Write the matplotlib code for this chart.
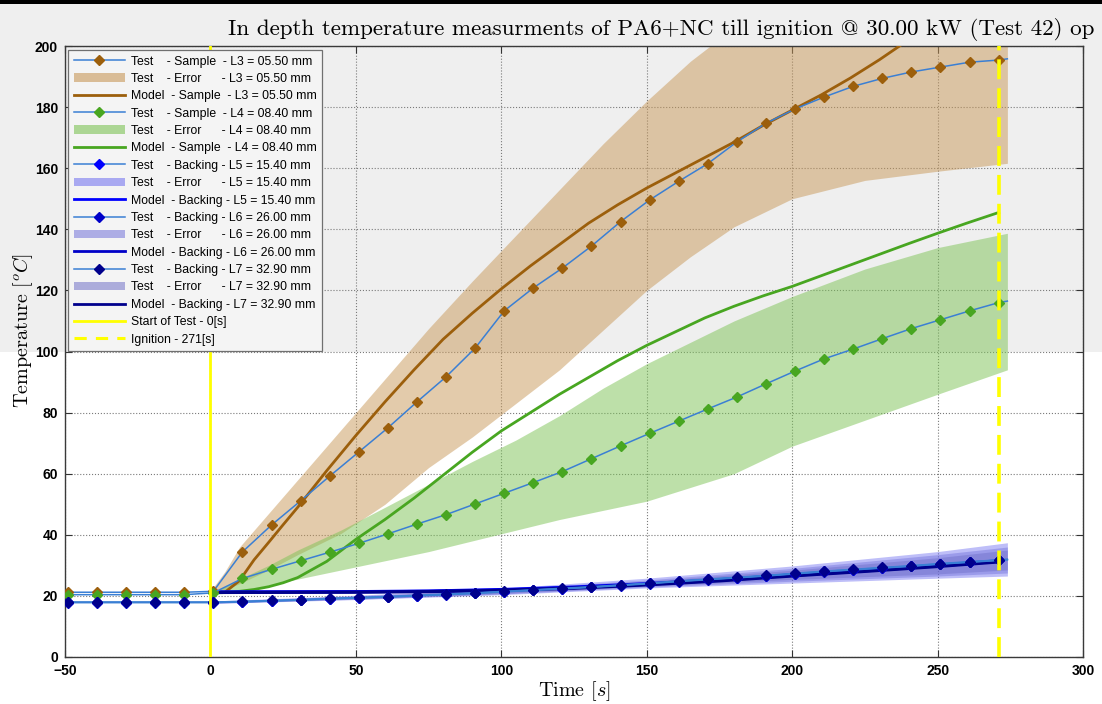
import numpy as np
import matplotlib
matplotlib.use("Agg")
import matplotlib.pyplot as plt
from matplotlib.lines import Line2D
from matplotlib.patches import Patch, Rectangle

plt.rcParams['mathtext.fontset'] = 'cm'
SERIF = ['cmr10', 'DejaVu Serif']
SANS = ['Liberation Sans', 'DejaVu Sans']

# ---------------- data ----------------
# thermocouple samples (s); markers on every sample except the last one
t_test = [-49, -39, -29, -19, -9, 1, 11, 21, 31, 41, 51, 61, 71, 81, 91, 101,
          111, 121, 131, 141, 151, 161, 171, 181, 191, 201, 211, 221, 231, 241,
          251, 261, 271, 274]

L3_test = [21.2, 21.2, 21.2, 21.2, 21.2, 21.5, 34.4, 43.2, 51.1, 59.2, 67.1,
           75.0, 83.5, 91.7, 101.1, 113.3, 120.8, 127.3, 134.5, 142.5, 149.6,
           155.7, 161.5, 168.6, 174.7, 179.4, 183.3, 186.8, 189.4, 191.5, 193.1,
           194.7, 195.4, 195.8]
L4_test = [20.4, 20.4, 20.4, 20.4, 20.4, 21.0, 25.7, 28.7, 31.5, 34.3, 37.2,
           40.3, 43.5, 46.6, 50.1, 53.6, 57.1, 60.7, 64.9, 69.1, 73.2, 77.2,
           81.2, 85.1, 89.4, 93.6, 97.6, 100.8, 104.2, 107.5, 110.4, 113.3,
           116.0, 116.5]
L5_test = [17.9, 17.9, 17.9, 17.9, 17.9, 17.9, 18.1, 18.4, 18.7, 19.1, 19.4,
           19.7, 20.1, 20.5, 20.9, 21.4, 21.9, 22.4, 22.9, 23.5, 24.1, 24.8,
           25.4, 26.0, 26.6, 27.3, 28.0, 28.6, 29.2, 29.8, 30.5, 31.1, 31.7, 31.9]
L6_test = [17.8, 17.8, 17.8, 17.8, 17.8, 17.8, 18.0, 18.3, 18.6, 19.0, 19.3,
           19.6, 20.0, 20.4, 20.8, 21.3, 21.8, 22.3, 22.8, 23.4, 24.0, 24.7,
           25.3, 25.9, 26.5, 27.2, 27.9, 28.5, 29.1, 29.7, 30.4, 31.0, 31.6, 31.8]
L7_test = [18.0, 18.0, 18.0, 18.0, 18.0, 18.0, 18.2, 18.5, 18.8, 19.2, 19.5,
           19.8, 20.2, 20.6, 21.0, 21.5, 22.0, 22.5, 23.0, 23.6, 24.2, 24.9,
           25.5, 26.1, 26.7, 27.4, 28.1, 28.7, 29.3, 29.9, 30.6, 31.2, 31.8, 32.0]

# measurement spread (error bands)
t_band = [0, 5, 10, 20, 30, 45, 60, 75, 90, 105, 120, 135, 150, 165, 180,
          200, 225, 250, 274]
L3_err_hi = [21.5, 28, 36, 47, 58, 74.5, 91, 107.5, 123, 138, 153, 168, 182,
             195, 206, 217, 225, 228, 230]
L3_err_lo = [21.0, 22, 24, 28.5, 33.5, 40.5, 50, 62, 72, 83, 94, 107, 120,
             131, 140.8, 150, 156, 159, 161.6]
L4_err_hi = [21.0, 23, 25.5, 30, 35, 41.6, 49, 56.5, 64, 71, 79, 88, 96,
             103, 110, 118, 127, 134, 138.7]
L4_err_lo = [20.5, 20.8, 21.5, 23.5, 25.5, 28.5, 31.5, 34.5, 38, 41.5, 45,
             48, 51, 55.5, 60, 69, 77.5, 86, 94]

t_bband = [0, 50, 100, 150, 200, 250, 274]
L5_err_hi = [18.3, 20.2, 22.5, 25.8, 29.8, 34.5, 37.4]
L5_err_lo = [17.5, 18.8, 20.4, 22.6, 24.2, 25.8, 26.5]
L6_err_hi = [18.2, 20.0, 22.2, 25.2, 29.0, 33.5, 36.0]
L6_err_lo = [17.6, 18.9, 20.6, 22.9, 24.8, 26.5, 27.5]
L7_err_hi = [18.1, 19.8, 22.0, 24.8, 28.4, 32.5, 35.0]
L7_err_lo = [17.7, 19.0, 20.8, 23.2, 25.4, 27.2, 28.5]

# model predictions
t_model = [0, 5, 10, 15, 20, 25, 30, 40, 50, 60, 70, 80, 90, 100, 110, 120,
           130, 140, 150, 160, 170, 180, 190, 200, 210, 220, 230, 240, 250,
           260, 271]
L3_model = [21.2, 21.2, 25.0, 31.8, 37.5, 43.3, 49.0, 61.0, 72.5, 83.5, 94.0,
            104.0, 112.5, 120.5, 128.0, 135.0, 142.0, 148.0, 153.5, 158.5,
            163.5, 168.5, 174.0, 179.0, 184.0, 189.5, 195.5, 202.0, 209.0,
            216.0, 224.0]
L4_model = [21.2, 21.2, 21.5, 22.1, 23.0, 24.3, 26.0, 31.3, 38.5, 45.0, 52.0,
            59.5, 67.0, 74.0, 80.0, 86.0, 91.5, 97.0, 102.0, 106.5, 111.0,
            114.8, 118.2, 121.3, 124.8, 128.3, 131.8, 135.3, 138.7, 142.0, 145.5]

t_bmodel = [0, 50, 75, 100, 125, 150, 175, 200, 225, 250, 271]
L5_model = [21.3, 21.4, 21.6, 22.1, 22.9, 24.0, 25.3, 26.9, 28.4, 30.0, 31.5]
L6_model = [21.2, 21.3, 21.5, 21.9, 22.7, 23.8, 25.1, 26.7, 28.2, 29.8, 31.3]
L7_model = [21.1, 21.2, 21.4, 21.8, 22.5, 23.6, 24.9, 26.5, 28.0, 29.6, 31.1]

t_start = 0
t_ignition = 271

labels = [
    'Test    - Sample  - L3 = 05.50 mm',
    'Test    - Error      - L3 = 05.50 mm',
    'Model  - Sample  - L3 = 05.50 mm',
    'Test    - Sample  - L4 = 08.40 mm',
    'Test    - Error      - L4 = 08.40 mm',
    'Model  - Sample  - L4 = 08.40 mm',
    'Test    - Backing - L5 = 15.40 mm',
    'Test    - Error      - L5 = 15.40 mm',
    'Model  - Backing - L5 = 15.40 mm',
    'Test    - Backing - L6 = 26.00 mm',
    'Test    - Error      - L6 = 26.00 mm',
    'Model  - Backing - L6 = 26.00 mm',
    'Test    - Backing - L7 = 32.90 mm',
    'Test    - Error      - L7 = 32.90 mm',
    'Model  - Backing - L7 = 32.90 mm',
    'Start of Test - 0[s]',
    'Ignition - 271[s]',
]

# ---------------- styling ----------------
TEST_LINE = '#3a7fd4'
C3 = '#9c5f0c'
C4 = '#48a621'
C5 = '#0000ff'
C6 = '#0000c8'
C7 = '#00008c'
B3 = ('#c89858', 0.5)
B4 = ('#7cc355', 0.5)
B5 = ('#6464f0', 0.42)
B6 = ('#6c6cd8', 0.42)
B7 = ('#6a6ac4', 0.42)
YEL = '#ffff00'

W, H = 1102, 704
fig = plt.figure(figsize=(W / 100, H / 100), dpi=100, facecolor='white')

# window background: dark strip on top and grey upper part
fig.patches.append(Rectangle((0, 1 - 352 / H), 1, 352 / H, transform=fig.transFigure,
                             facecolor='#efefef', edgecolor='none', zorder=-20))
fig.patches.append(Rectangle((0, 1 - 4 / H), 1, 4 / H, transform=fig.transFigure,
                             facecolor='black', edgecolor='none', zorder=-19))

ax = fig.add_axes([65 / W, 1 - 657 / H, (1083 - 65) / W, (657 - 46) / H])
ax.set_facecolor('none')

# error bands
ax.fill_between(t_band, L3_err_lo, L3_err_hi, color=B3[0], alpha=B3[1], lw=0, zorder=1)
ax.fill_between(t_band, L4_err_lo, L4_err_hi, color=B4[0], alpha=B4[1], lw=0, zorder=1)
ax.fill_between(t_bband, L5_err_lo, L5_err_hi, color=B5[0], alpha=B5[1], lw=0, zorder=1)
ax.fill_between(t_bband, L6_err_lo, L6_err_hi, color=B6[0], alpha=B6[1], lw=0, zorder=1)
ax.fill_between(t_bband, L7_err_lo, L7_err_hi, color=B7[0], alpha=B7[1], lw=0, zorder=1)

# model curves
ax.plot(t_model, L3_model, color=C3, lw=2, zorder=3)
ax.plot(t_model, L4_model, color=C4, lw=2, zorder=3)
ax.plot(t_bmodel, L5_model, color=C5, lw=2.2, zorder=3)
ax.plot(t_bmodel, L6_model, color=C6, lw=2.2, zorder=3)
ax.plot(t_bmodel, L7_model, color=C7, lw=2.2, zorder=3)

# measured curves
mk = list(range(len(t_test) - 1))
for vals, col in [(L3_test, C3), (L4_test, C4), (L5_test, C5),
                  (L6_test, C6), (L7_test, C7)]:
    ax.plot(t_test, vals, color=TEST_LINE, lw=1.1, marker='D', ms=5.5,
            mfc=col, mec=col, markevery=mk, zorder=4)

# start / ignition markers
ax.axvline(t_start, color=YEL, lw=2, zorder=5)
ax.axvline(t_ignition, color=YEL, lw=2.6, ls=(0, (5.5, 2.5)), zorder=5)

ax.set_xlim(-50, 300)
ax.set_ylim(0, 200)
ax.set_xticks(np.arange(-50, 301, 50))
ax.set_yticks(np.arange(0, 201, 20))
ax.grid(True, ls=':', color='#7a7a7a', lw=0.8)
ax.set_axisbelow(True)
ax.tick_params(direction='in', length=5, width=0.8, top=True, right=True,
               color='#333333', labelsize=10, pad=5)
for lab in ax.get_xticklabels() + ax.get_yticklabels():
    lab.set_family(SANS)
    lab.set_fontweight('bold')
for sp in ax.spines.values():
    sp.set_color('#3a3a3a')
    sp.set_linewidth(1.0)

ax.set_xlabel('Time [$s$]', family=SERIF, fontsize=14.5, labelpad=1)
ax.set_ylabel('Temperature [$^oC$]', family=SERIF, fontsize=14.5)
ax.yaxis.set_label_coords(-0.029, 0.535)

fig.text(228 / W, 1 - 35 / H,
         'In depth temperature measurments of PA6+NC till ignition @ 30.00 kW (Test 42) op',
         family=SERIF, fontsize=16.6, ha='left', va='baseline')

# legend
handles = []
for col, (bc, ba) in [(C3, B3), (C4, B4), (C5, B5), (C6, B6), (C7, B7)]:
    handles.append(Line2D([], [], color=TEST_LINE, lw=1.1, marker='D', ms=5.5,
                          mfc=col, mec=col))
    handles.append(Patch(facecolor=bc, alpha=min(1, ba + 0.1), edgecolor='none'))
    handles.append(Line2D([], [], color=col, lw=2))
handles.append(Line2D([], [], color=YEL, lw=2))
handles.append(Line2D([], [], color=YEL, lw=2.2, ls=(0, (4, 3))))

leg = ax.legend(handles, labels, loc='upper left',
                bbox_to_anchor=(68 / W, 1 - 50 / H), bbox_transform=fig.transFigure,
                borderaxespad=0, fancybox=False, framealpha=1,
                facecolor='#f4f4f4', edgecolor='#707070',
                prop={'family': SANS, 'size': 8.8},
                handlelength=4.2, handletextpad=0.5, labelspacing=0.44,
                borderpad=0.45)
leg.get_frame().set_linewidth(0.9)
leg.set_zorder(10)

fig.savefig('out.png', dpi=100, facecolor=fig.get_facecolor())
